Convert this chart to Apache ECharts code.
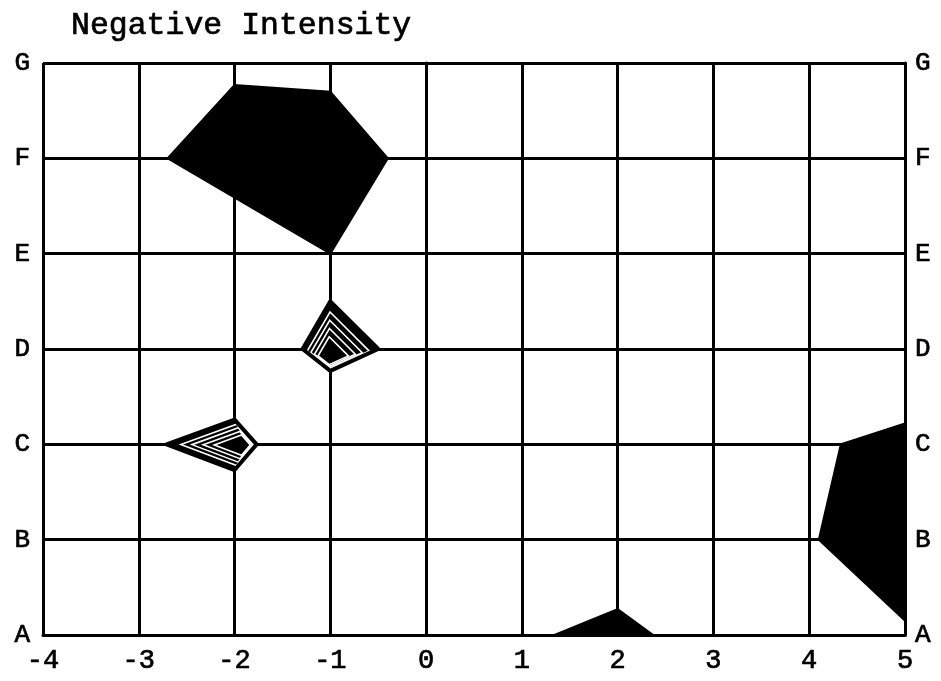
<!DOCTYPE html>
<html><head><meta charset="utf-8">
<script src="https://cdn.jsdelivr.net/npm/echarts@6/dist/echarts.min.js"></script>
<style>html,body{margin:0;padding:0;background:#fff}#c{width:941px;height:681px}</style>
</head><body><div id="c"></div>
<script>
const titleText = 'Negative Intensity';
const xTicks = [-4, -3, -2, -1, 0, 1, 2, 3, 4, 5];
const yLabels = ['A', 'B', 'C', 'D', 'E', 'F', 'G'];
// polygons: [x, yIndex] where A=0 ... G=6
const polyF = [[-2.7, 5.0], [-2.0, 5.77], [-1.0, 5.7], [-0.4, 5.0], [-1.0, 4.0]];
const polyD = [[-1.0, 3.5], [-0.5, 3.0], [-1.0, 2.77], [-1.29, 3.0]];
const polyC = [[-2.0, 2.26], [-1.77, 2.0], [-2.0, 1.73], [-2.71, 2.0]];
const polyB = [[5.0, 2.22], [4.33, 2.0], [4.1, 1.0], [5.0, 0.15]];
const polyA = [[1.34, 0.0], [2.0, 0.27], [2.37, 0.0]];
const polygons = [polyF, polyD, polyC, polyB, polyA];
const hatched = [false, true, true, false, false];
const hatchAnchor = [null, [-1.02, 2.88], [-1.88, 1.99], null, null];

const chart = echarts.init(document.getElementById('c'));
const font = 'Liberation Mono';
const axisLineStyle = {color: '#000', width: 3};
const thick = {textBorderColor: '#000', textBorderWidth: 0.7};
chart.setOption({
  animation: false,
  backgroundColor: '#fff',
  title: {text: titleText, left: 66, top: 5,
    textStyle: Object.assign({fontFamily: font, fontSize: 31.5, fontWeight: 'normal', color: '#000'}, thick)},
  grid: {left: 43, right: 36, top: 63, bottom: 46, containLabel: false},
  xAxis: {type: 'value', min: xTicks[0], max: xTicks[xTicks.length - 1], interval: 1,
    axisLine: {show: true, lineStyle: axisLineStyle},
    axisTick: {show: false},
    splitLine: {show: true, lineStyle: axisLineStyle},
    axisLabel: Object.assign({fontFamily: font, fontSize: 27, color: '#000', margin: 12}, thick)},
  yAxis: [
    {type: 'value', min: 0, max: yLabels.length - 1, interval: 1, position: 'left',
      axisLine: {show: true, lineStyle: axisLineStyle}, axisTick: {show: false},
      splitLine: {show: true, lineStyle: axisLineStyle},
      axisLabel: Object.assign({fontFamily: font, fontSize: 26, color: '#000', margin: 13,
        formatter: v => yLabels[v]}, thick)},
    {type: 'value', min: 0, max: yLabels.length - 1, interval: 1, position: 'right',
      axisLine: {show: true, lineStyle: axisLineStyle}, axisTick: {show: false},
      splitLine: {show: false},
      axisLabel: Object.assign({fontFamily: font, fontSize: 26, color: '#000', margin: 10,
        formatter: v => yLabels[v]}, thick)}
  ],
  series: [{
    type: 'custom',
    coordinateSystem: 'cartesian2d',
    data: polygons.map((p, i) => [i]),
    renderItem: function (params, api) {
      const i = params.dataIndex;
      const pts = polygons[i].map(p => api.coord(p));
      const children = [{type: 'polygon', shape: {points: pts},
        style: {fill: '#000', stroke: '#000', lineWidth: 2}}];
      if (hatched[i]) {
        const a = api.coord(hatchAnchor[i]);
        [0.82, 0.68, 0.54, 0.4].forEach(f => {
          const sp = pts.map(p => [a[0] + (p[0] - a[0]) * f, a[1] + (p[1] - a[1]) * f]);
          children.push({type: 'polygon', shape: {points: sp},
            style: {fill: 'none', stroke: '#fff', lineWidth: 1.6}});
        });
        children.push({type: 'polygon', shape: {points: pts},
          style: {fill: 'none', stroke: '#000', lineWidth: 4, lineJoin: 'round'}});
      }
      return {type: 'group', children: children};
    }
  }]
});
</script></body></html>
